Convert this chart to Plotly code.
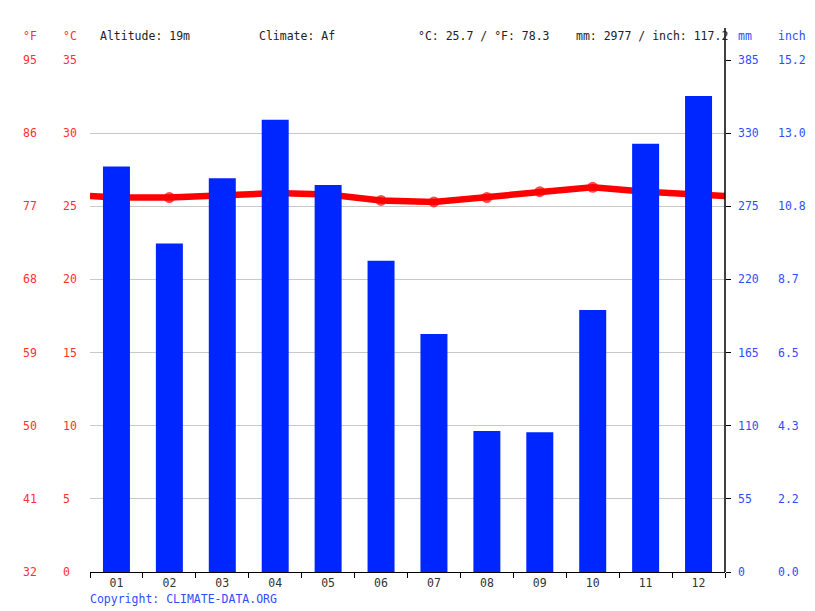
import plotly.graph_objects as go

months = ["01", "02", "03", "04", "05", "06", "07", "08", "09", "10", "11", "12"]
precip_mm = [305, 247, 296, 340, 291, 234, 179, 106, 105, 197, 322, 358]
temp_c = [25.6, 25.6, 25.8, 25.9, 25.8, 25.4, 25.3, 25.6, 26.0, 26.3, 26.0, 25.8]

c_ticks = [0, 5, 10, 15, 20, 25, 30, 35]
f_labels = ["32", "41", "50", "59", "68", "77", "86", "95"]
mm_ticks = [0, 55, 110, 165, 220, 275, 330, 385]
inch_labels = ["0.0", "2.2", "4.3", "6.5", "8.7", "10.8", "13.0", "15.2"]

header = [
    ("Altitude: 19m", 100),
    ("Climate: Af", 259),
    ("°C: 25.7 / °F: 78.3", 418),
    ("mm: 2977 / inch: 117.2", 576),
]

RED = "#ff0000"
RED_TXT = "#ff3030"
BLUE = "#0026ff"
BLUE_TXT = "#2f4dff"
FONT = "DejaVu Sans Mono"
FS = 11.5

OFF = 8  # page body margin
W, H = 815 - OFF, 611 - OFF
L, R, T, B = 90, 725, 60, 572  # plot area in screen pixels


def px_x(p):
    return (p - L) / (R - L)


def px_y(p):
    return (B - p) / (B - T)


x = list(range(1, 13))
edge = (temp_c[0] + temp_c[-1]) / 2
line_x = [0.5] + x + [12.5]
line_y = [edge] + temp_c + [edge]

fig = go.Figure()
fig.add_trace(go.Bar(x=x, y=precip_mm, yaxis="y2", marker=dict(color=BLUE, line=dict(width=0)),
                     width=0.51, hoverinfo="skip"))
fig.add_trace(go.Scatter(x=line_x, y=line_y, yaxis="y", mode="lines+markers",
                         line=dict(color=RED, width=6.5),
                         marker=dict(color=RED, size=[0] + [11] * 12 + [0], line=dict(width=0)),
                         hoverinfo="skip"))

ann = []
tpad = 2
for v, lab in zip(c_ticks, f_labels):
    ann.append(dict(x=px_x(23 - tpad), y=v, xref="paper", yref="y", text=lab, showarrow=False,
                    xanchor="left", yanchor="middle", font=dict(color=RED_TXT, size=FS, family=FONT)))
    ann.append(dict(x=px_x(63 - tpad), y=v, xref="paper", yref="y", text=str(v), showarrow=False,
                    xanchor="left", yanchor="middle", font=dict(color=RED_TXT, size=FS, family=FONT)))
for v, lab in zip(mm_ticks, inch_labels):
    ann.append(dict(x=px_x(738 - tpad), y=v, xref="paper", yref="y2", text=str(v), showarrow=False,
                    xanchor="left", yanchor="middle", font=dict(color=BLUE_TXT, size=FS, family=FONT)))
    ann.append(dict(x=px_x(778 - tpad), y=v, xref="paper", yref="y2", text=lab, showarrow=False,
                    xanchor="left", yanchor="middle", font=dict(color=BLUE_TXT, size=FS, family=FONT)))

for txt, px in [("°F", 23), ("°C", 63)]:
    ann.append(dict(x=px_x(px - tpad), y=px_y(36), xref="paper", yref="paper", text=txt, showarrow=False,
                    xanchor="left", yanchor="middle", font=dict(color=RED_TXT, size=FS, family=FONT)))
for txt, px in [("mm", 738), ("inch", 778)]:
    ann.append(dict(x=px_x(px - tpad), y=px_y(36), xref="paper", yref="paper", text=txt, showarrow=False,
                    xanchor="left", yanchor="middle", font=dict(color=BLUE_TXT, size=FS, family=FONT)))
for txt, px in header:
    ann.append(dict(x=px_x(px - tpad), y=px_y(36), xref="paper", yref="paper", text=txt, showarrow=False,
                    xanchor="left", yanchor="middle", font=dict(color="#222222", size=FS, family=FONT)))
ann.append(dict(x=px_x(90 - tpad), y=px_y(599), xref="paper", yref="paper", text="Copyright: CLIMATE-DATA.ORG",
                showarrow=False, xanchor="left", yanchor="middle",
                font=dict(color=BLUE_TXT, size=FS, family=FONT)))

fig.update_layout(
    width=W, height=H,
    margin=dict(l=L - OFF, r=W - (R - OFF), t=T - OFF, b=H - (B - OFF), pad=0),
    paper_bgcolor="white", plot_bgcolor="white",
    showlegend=False,
    font=dict(family=FONT, size=FS, color="#333333"),
    xaxis=dict(range=[0.5, 12.5], tickvals=x, ticktext=months, ticks="", showgrid=False,
               zeroline=False, showline=True, linecolor="black", linewidth=1,
               tickfont=dict(size=FS, color="#333333", family=FONT),
               minor=dict(tickvals=[i + 0.5 for i in range(0, 13)], ticks="outside", ticklen=5,
                          tickcolor="black", showgrid=False)),
    yaxis=dict(range=[0, 35], tickvals=c_ticks, showticklabels=False, showgrid=True,
               gridcolor="#c8c8c8", gridwidth=1, zeroline=False, ticks=""),
    yaxis2=dict(range=[0, 385], tickvals=mm_ticks, showticklabels=False, overlaying="y", side="right",
                showgrid=False, zeroline=False, ticks="outside", ticklen=5, tickcolor="black"),
    annotations=ann,
    shapes=[dict(type="line", xref="paper", yref="paper", x0=1, x1=1, y0=0, y1=px_y(28),
                 line=dict(color="black", width=1.5))],
)

fig.write_html("out.html")
